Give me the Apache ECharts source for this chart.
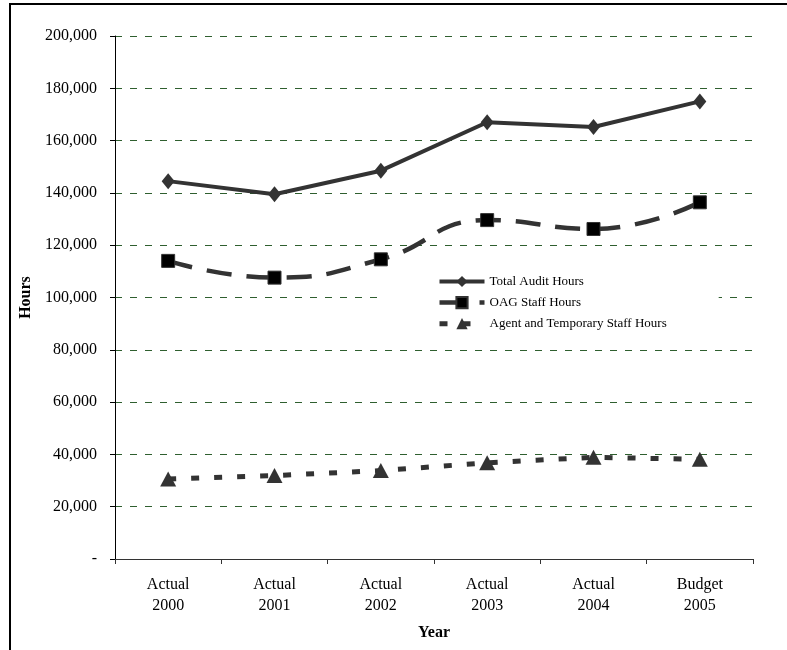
<!DOCTYPE html>
<html>
<head>
<meta charset="utf-8">
<title>Audit Hours</title>
<script src="https://cdn.jsdelivr.net/npm/echarts@6/dist/echarts.min.js"></script>
<style>
  html, body { margin: 0; padding: 0; background: #fff; }
  #chart { width: 787px; height: 650px; }
</style>
</head>
<body>
<div id="chart"></div>
<script>
// Categories (two-line labels) and series values, in hours
const years = ['Actual\n2000', 'Actual\n2001', 'Actual\n2002', 'Actual\n2003', 'Actual\n2004', 'Budget\n2005'];
const totalAuditHours = [144500, 139500, 148500, 167000, 165200, 175000];
const oagStaffHours = [114000, 107600, 114600, 129600, 126200, 136400];
const agentTempHours = [30600, 31900, 33800, 36800, 38900, 38100];
const seriesNames = ['Total Audit Hours', 'OAG Staff Hours', 'Agent and Temporary Staff Hours'];

const serif = "'Liberation Serif', 'Times New Roman', serif";

const chart = echarts.init(document.getElementById('chart'), null, { renderer: 'canvas' });

chart.setOption({
  backgroundColor: '#fff',
  animation: false,
  graphic: [{
    // outer frame of the chart area
    type: 'rect',
    shape: { x: 10, y: 4, width: 900, height: 800 },
    style: { fill: 'none', stroke: '#000', lineWidth: 2 },
    silent: true,
    z: 0
  }],
  grid: { left: 115, right: 34, top: 36, bottom: 91 },
  legend: {
    orient: 'vertical',
    left: 380,
    top: 270,
    padding: [5, 52, 5, 57],
    backgroundColor: '#fff',
    itemWidth: 45,
    itemHeight: 14,
    itemGap: 8,
    data: [
      { name: seriesNames[0], lineStyle: { width: 4 } },
      { name: seriesNames[1], lineStyle: { width: 4.5 } },
      { name: seriesNames[2], lineStyle: { width: 5 } }
    ],
    textStyle: { fontFamily: serif, fontSize: 13, color: '#000' }
  },
  xAxis: {
    type: 'category',
    data: years,
    boundaryGap: true,
    axisLine: { show: true, lineStyle: { color: '#333', width: 1 } },
    axisTick: { show: true, interval: 0, length: 5, lineStyle: { color: '#333' } },
    axisLabel: { fontFamily: serif, fontSize: 16, color: '#000', lineHeight: 21, margin: 15, interval: 0 },
    splitLine: { show: false },
    name: 'Year',
    nameLocation: 'middle',
    nameGap: 66,
    nameTextStyle: { fontFamily: serif, fontSize: 16, fontWeight: 'bold', color: '#000' }
  },
  yAxis: {
    type: 'value',
    min: 0,
    max: 200000,
    interval: 20000,
    axisLine: { show: true, lineStyle: { color: '#000', width: 1 } },
    axisTick: { show: true, length: 5, lineStyle: { color: '#000' } },
    axisLabel: {
      fontFamily: serif, fontSize: 16, color: '#000', margin: 18,
      formatter: v => v === 0 ? '-' : v.toLocaleString('en-US')
    },
    splitLine: { show: true, lineStyle: { color: '#2f5f2f', width: 1, type: [7, 8] } },
    name: 'Hours',
    nameLocation: 'middle',
    nameGap: 80,
    nameRotate: 90,
    nameTextStyle: { fontFamily: serif, fontSize: 16, fontWeight: 'bold', color: '#000' }
  },
  series: [
    {
      name: seriesNames[0],
      type: 'line',
      data: totalAuditHours,
      symbol: 'diamond',
      symbolSize: [13, 16],
      lineStyle: { color: '#333', width: 4 },
      itemStyle: { color: '#333' },
      z: 3
    },
    {
      name: seriesNames[1],
      type: 'line',
      data: oagStaffHours,
      smooth: true,
      symbol: 'rect',
      symbolSize: 13,
      lineStyle: { color: '#333', width: 4.5, type: [25, 15] },
      itemStyle: { color: '#000', borderColor: '#333', borderWidth: 1 },
      z: 3
    },
    {
      name: seriesNames[2],
      type: 'line',
      data: agentTempHours,
      symbol: 'triangle',
      symbolSize: [16, 15],
      lineStyle: { color: '#333', width: 5, type: [8, 15] },
      itemStyle: { color: '#333' },
      z: 3
    }
  ]
});
</script>
</body>
</html>
